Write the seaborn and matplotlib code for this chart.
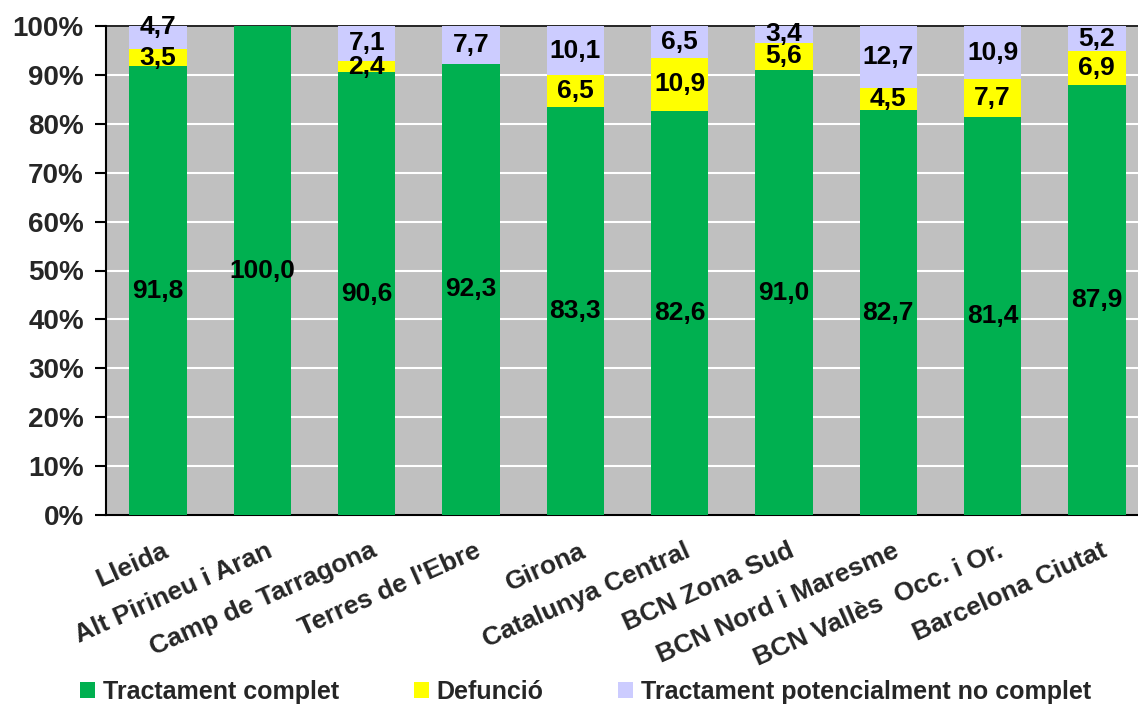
import numpy as np
import pandas as pd
import matplotlib
matplotlib.use("Agg")
import matplotlib.pyplot as plt
import matplotlib.transforms as mtransforms
from matplotlib.patches import Patch
import seaborn as sns

regions = ["Lleida", "Alt Pirineu i Aran", "Camp de Tarragona", "Terres de l'Ebre",
           "Girona", "Catalunya Central", "BCN Zona Sud", "BCN Nord i Maresme",
           "BCN Vallès  Occ. i Or.", "Barcelona Ciutat"]
complet = [91.8, 100.0, 90.6, 92.3, 83.3, 82.6, 91.0, 82.7, 81.4, 87.9]
defuncio = [3.5, 0.0, 2.4, 0.0, 6.5, 10.9, 5.6, 4.5, 7.7, 6.9]
no_complet = [4.7, 0.0, 7.1, 7.7, 10.1, 6.5, 3.4, 12.7, 10.9, 5.2]
series_names = ["Tractament complet", "Defunció", "Tractament potencialment no complet"]
yticks = [0, 10, 20, 30, 40, 50, 60, 70, 80, 90, 100]

colors = ["#00B050", "#FFFF00", "#CCCCFF"]

sns.set_theme(style="white")
plt.rcParams["font.family"] = ["Liberation Sans", "DejaVu Sans"]
plt.rcParams["font.weight"] = "bold"

df = pd.DataFrame({"region": regions, "c": complet, "d": defuncio, "n": no_complet})
total = df[["c", "d", "n"]].sum(axis=1)
# 100% stacked: normalise every bar to its own total
df["p_c"] = df["c"] / total * 100
df["p_d"] = df["d"] / total * 100
df["p_n"] = df["n"] / total * 100
df["cum_c"] = df["p_c"]
df["cum_d"] = df["p_c"] + df["p_d"]
df["cum_n"] = df["cum_d"] + df["p_n"]

fig = plt.figure(figsize=(11.38, 7.09), dpi=100)
ax = fig.add_axes([106 / 1138, 1 - 515 / 709, 1043 / 1138, (515 - 26) / 709])
ax.set_facecolor("#C0C0C0")

# draw cumulative layers from the tallest down so each covers the one beneath
for col, color in zip(["cum_n", "cum_d", "cum_c"], colors[::-1]):
    sns.barplot(data=df, x="region", y=col, color=color, width=0.55,
                saturation=1, ax=ax, zorder=3, linewidth=0)

n = len(regions)
ax.set_xlim(-0.5, n - 0.5)
ax.set_ylim(0, 100)
ax.set_yticks(yticks)
ax.set_yticklabels([f"{v}%" for v in yticks], fontsize=20, fontweight="bold")
ax.yaxis.grid(True, color="white", linewidth=1.5, zorder=0)
ax.set_axisbelow(True)
ax.set_xlabel("")
ax.set_ylabel("")

# segment value labels, centred; a label too close to the one below is lifted
min_gap = 4.3
for i in range(n):
    bottoms = [0, df.loc[i, "cum_c"], df.loc[i, "cum_d"]]
    heights = [df.loc[i, "p_c"], df.loc[i, "p_d"], df.loc[i, "p_n"]]
    raws = [complet[i], defuncio[i], no_complet[i]]
    prev_y = None
    for b, h, r in zip(bottoms, heights, raws):
        if r <= 0:
            continue
        y = b + h / 2
        if prev_y is not None and y - prev_y < min_gap:
            y = min(prev_y + 6.2, 100.0)
        ax.text(i, y, f"{r:.1f}".replace(".", ","), ha="center", va="center",
                fontsize=19, fontweight="bold", color="black", zorder=5)
        prev_y = y

# category labels at centres, tick marks at category boundaries
ax.set_xticks(range(n))
ax.set_xticklabels(regions, rotation=24, ha="right", rotation_mode="anchor",
                   fontsize=19, fontweight="bold")
ax.tick_params(axis="x", which="major", length=0, pad=17)
shift = mtransforms.ScaledTranslation(4 / 100, 0, fig.dpi_scale_trans)
for lab in ax.get_xticklabels():
    lab.set_transform(lab.get_transform() + shift)
ax.set_xticks(np.arange(-0.5, n, 1.0), minor=True)
ax.tick_params(axis="x", which="minor", length=7, width=1.5, color="black", direction="out")
ax.tick_params(axis="y", length=8, width=1.5, color="black", direction="out", pad=8, left=True)

for side in ["left", "bottom", "top"]:
    ax.spines[side].set_visible(True)
    ax.spines[side].set_color("black")
    ax.spines[side].set_linewidth(1.5)
ax.spines["right"].set_visible(False)
ax.spines["top"].set_linewidth(1.2)

handles = [Patch(facecolor=c, edgecolor="none") for c in colors]
fig.legend(handles, series_names, loc="center", bbox_to_anchor=(0.5145, 1 - 692 / 709),
           ncol=3, frameon=False, handlelength=0.6, handleheight=0.6,
           handletextpad=0.3, columnspacing=3.0,
           prop={"weight": "bold", "size": 18})

fig.savefig("out.png", dpi=100)
